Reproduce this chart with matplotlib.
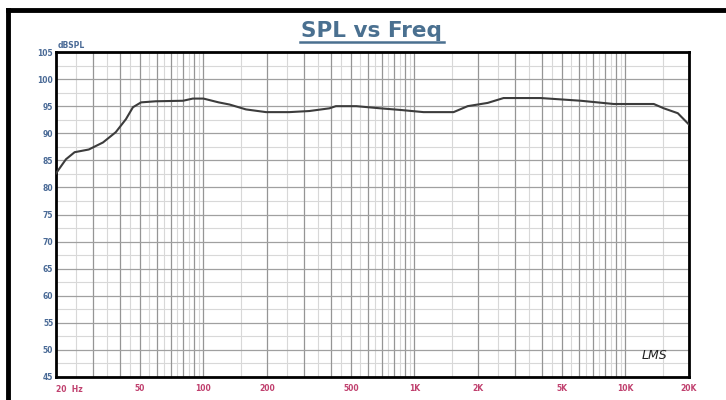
import matplotlib.pyplot as plt
from matplotlib.lines import Line2D

# SPL curve
freq = [20, 22.3, 24.5, 28.6, 33.4, 38.4, 42.9, 46.3, 50.6, 59.3, 80, 89, 100,
        118, 133, 159, 198, 255, 317, 395, 424, 530, 690, 859, 1104, 1532,
        1786, 2222, 2643, 3965, 6140, 8800, 13620, 15200, 17700, 20000]
spl = [82.6, 85.2, 86.5, 87.0, 88.3, 90.2, 92.6, 94.8, 95.7, 95.9, 96.0, 96.4,
       96.4, 95.7, 95.3, 94.4, 93.9, 93.9, 94.1, 94.6, 95.0, 95.0, 94.6, 94.3,
       93.9, 93.9, 95.0, 95.6, 96.5, 96.5, 96.0, 95.4, 95.4, 94.6, 93.7, 91.6]

x_labels = {50: "50", 100: "100", 200: "200", 500: "500", 1000: "1K",
            2000: "2K", 5000: "5K", 10000: "10K", 20000: "20K"}
y_ticks = list(range(45, 106, 5))
y_minor = [y + 2.5 for y in range(45, 105, 5)]

major_x = []
minor_x = []
for dec in [10, 100, 1000, 10000]:
    for m in range(1, 10):
        f = m * dec
        if 20 <= f <= 20000:
            major_x.append(f)
        h = (m + 0.5) * dec
        if 20 <= h <= 20000:
            minor_x.append(h)
major_x.append(20000)

blue = "#4a6a96"
pink = "#c0406e"

fig = plt.figure(figsize=(7.26, 4.0), dpi=100)
ax = fig.add_axes([56 / 726, 1 - 377 / 400, 633 / 726, 325 / 400])

for f in minor_x:
    ax.axvline(f, color="#d8d8d8", lw=0.8, zorder=1)
for y in y_minor:
    ax.axhline(y, color="#d8d8d8", lw=0.8, zorder=1)
for f in major_x:
    ax.axvline(f, color="#959595", lw=0.9, zorder=2)
for y in y_ticks:
    ax.axhline(y, color="#a0a0a0", lw=0.9, zorder=2)

ax.plot(freq, spl, color="#3c3c3c", lw=1.5, zorder=3)

ax.set_xscale("log")
ax.set_xlim(20, 20000)
ax.set_ylim(45, 105)
ax.minorticks_off()
ax.set_xticks(list(x_labels.keys()))
ax.set_xticklabels(list(x_labels.values()))
ax.set_yticks(y_ticks)
ax.tick_params(axis="x", length=0, pad=5, labelsize=5.5, labelcolor=pink)
ax.tick_params(axis="y", length=0, pad=2, labelsize=5.5, labelcolor=blue)
for lab in ax.get_xticklabels() + ax.get_yticklabels():
    lab.set_fontweight("bold")
for s in ax.spines.values():
    s.set_linewidth(2)
    s.set_color("black")

ax.text(0.0, -0.025, "20  Hz", transform=ax.transAxes, ha="left", va="top",
        fontsize=5.5, color=pink, fontweight="bold")
ax.text(0.002, 1.005, "dBSPL", transform=ax.transAxes, ha="left", va="bottom",
        fontsize=5.5, color=blue, fontweight="bold")
ax.text(0.965, 0.045, "LMS", transform=ax.transAxes, ha="right", va="bottom",
        fontsize=9, style="italic", color="#222222", zorder=4)

title = fig.text(371 / 726, 1 - 31 / 400, "SPL vs Freq", ha="center", va="center",
                 fontsize=15.5, fontweight="bold", color="#4a7090")
fig.add_artist(Line2D([300 / 726, 444 / 726], [1 - 42 / 400, 1 - 42 / 400],
                      color="#4a7090", lw=1.8))

# outer frame (top and left edges)
fig.add_artist(Line2D([8 / 726, 1.0], [1 - 10 / 400, 1 - 10 / 400], color="black", lw=3.5))
fig.add_artist(Line2D([8 / 726, 8 / 726], [0.0, 1 - 10 / 400], color="black", lw=3.5))

fig.savefig("out.png", dpi=100, facecolor="white")
